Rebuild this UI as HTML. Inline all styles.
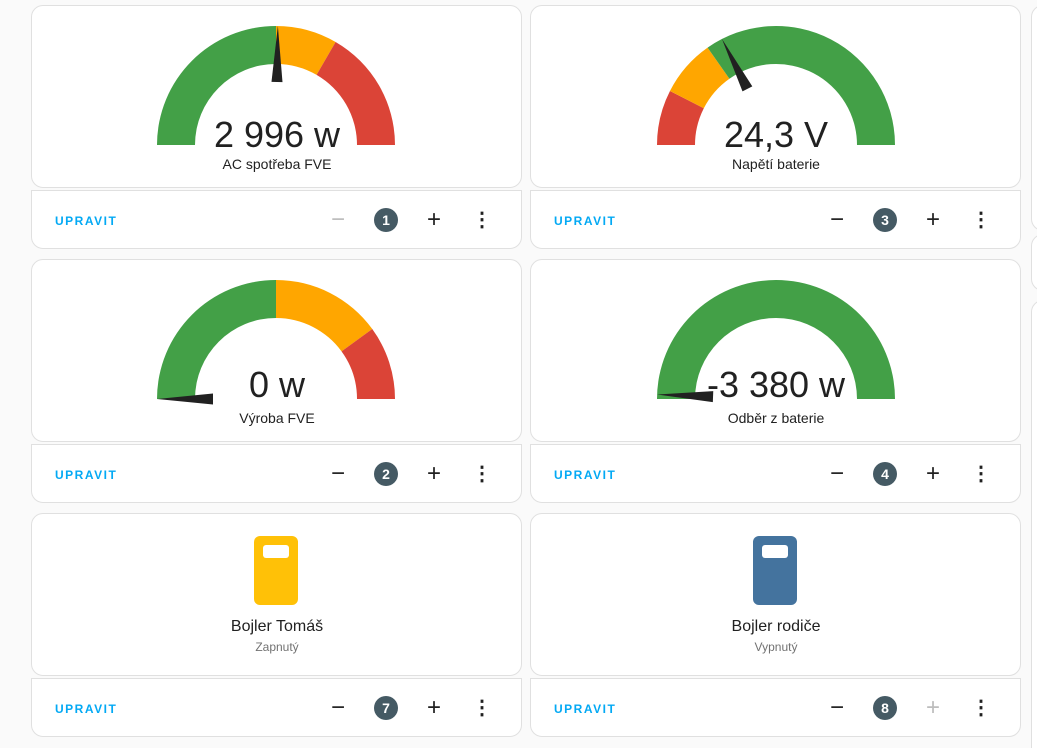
<!DOCTYPE html>
<html><head><meta charset="utf-8">
<style>
html,body{margin:0;width:1037px;height:748px;overflow:hidden}
body{background:#fafafa;position:relative;font-family:"Liberation Sans",sans-serif;color:#212121}
.card{position:absolute;background:#fff;border:1px solid #e0e0e0;border-radius:12px;box-sizing:border-box}
.foot{position:absolute;background:#fff;border:1px solid #e0e0e0;border-radius:0 0 12px 12px;box-sizing:border-box}
.up{position:absolute;left:23px;top:23px;font-size:12px;font-weight:bold;letter-spacing:1.5px;color:#03a9f4}
.ctl{position:absolute;top:18px;width:24px;height:24px;text-align:center;font-size:24px;line-height:22px;color:#212121}
.badge{position:absolute;top:17px;width:24px;height:24px;border-radius:12px;background:#455a64;color:#fff;font-size:14px;line-height:24px;text-align:center;font-weight:bold}
.lbl{position:absolute;width:490px;text-align:center;font-size:14px}
.big{position:absolute;width:490px;text-align:center;font-size:36px}
.icon{position:absolute;width:44px;height:69px;border-radius:6px}
.icon div{position:absolute;left:9px;top:9px;width:26px;height:13px;border-radius:3px;background:#fff}
</style></head><body>
<svg id="g" width="1037" height="748" style="position:absolute;left:0;top:0;z-index:1;pointer-events:none"></svg>

<div class="card" style="left:31px;top:5px;width:491px;height:183px">
 <div class="big" style="top:108px">2 996 w</div>
 <div class="lbl" style="top:150px">AC spotřeba FVE</div></div>
<div class="card" style="left:530px;top:5px;width:491px;height:183px">
 <div class="big" style="top:108px">24,3 V</div>
 <div class="lbl" style="top:150px">Napětí baterie</div></div>
<div class="card" style="left:31px;top:259px;width:491px;height:183px">
 <div class="big" style="top:104px">0 w</div>
 <div class="lbl" style="top:150px">Výroba FVE</div></div>
<div class="card" style="left:530px;top:259px;width:491px;height:183px">
 <div class="big" style="top:104px">-3 380 w</div>
 <div class="lbl" style="top:150px">Odběr z baterie</div></div>
<div class="card" style="left:31px;top:513px;width:491px;height:163px">
 <div class="icon" style="left:222px;top:22px;background:#ffc107"><div></div></div>
 <div class="lbl" style="top:104px;font-size:16px">Bojler Tomáš</div>
 <div class="lbl" style="top:126px;font-size:12px;color:#727272">Zapnutý</div></div>
<div class="card" style="left:530px;top:513px;width:491px;height:163px">
 <div class="icon" style="left:222px;top:22px;background:#44739e"><div></div></div>
 <div class="lbl" style="top:104px;font-size:16px">Bojler rodiče</div>
 <div class="lbl" style="top:126px;font-size:12px;color:#727272">Vypnutý</div></div>

<div class="card" style="left:1031px;top:5px;width:40px;height:226px"></div>
<div class="card" style="left:1031px;top:234px;width:40px;height:57px"></div>
<div class="card" style="left:1031px;top:300px;width:40px;height:460px"></div>

<div id="feet"></div>
<script>
const gaugeCenters=[[276,145],[776,145],[276,399],[776,399]];
const segStops=[[0.5,0.667,1],[0.15,0.305,1],[0.5,0.8,1],[1,1,1]];
const segOrder=[["#43a047","#ffa600","#db4437"],["#db4437","#ffa600","#43a047"],["#43a047","#ffa600","#db4437"],["#43a047","#43a047","#43a047"]];
const needleValues=[0.505,0.35,0,0.012];
const footBadges=["1","3","2","4","7","8"];
const minusDisabled=[true,false,false,false,false,false];
const plusDisabled=[false,false,false,false,false,true];
const svg=document.getElementById('g');const NS='http://www.w3.org/2000/svg';
const R=119,r=81;
function pt(cx,cy,rad,f){const a=Math.PI*(1-f);return [cx+rad*Math.cos(a),cy-rad*Math.sin(a)];}
gaugeCenters.forEach((c,i)=>{
 let prev=0;
 segStops[i].forEach((s,j)=>{
  if(s<=prev)return;
  const p1=pt(c[0],c[1],R,prev),p2=pt(c[0],c[1],R,s),p3=pt(c[0],c[1],r,s),p4=pt(c[0],c[1],r,prev);
  const el=document.createElementNS(NS,'path');
  el.setAttribute('d',`M${p1} A${R} ${R} 0 0 1 ${p2} L${p3} A${r} ${r} 0 0 0 ${p4}Z`);
  el.setAttribute('fill',segOrder[i][j]);
  
  
  svg.appendChild(el);prev=s;
 });
 const v=needleValues[i];const a=Math.PI*(1-v);
 const tip=pt(c[0],c[1],R,v),b=pt(c[0],c[1],63,v);
 const dx=-Math.sin(a)*5.5,dy=-Math.cos(a)*5.5;
 const n=document.createElementNS(NS,'polygon');
 n.setAttribute('points',`${tip} ${b[0]+dx},${b[1]+dy} ${b[0]-dx},${b[1]-dy}`);
 n.setAttribute('fill','#212121');
 
 
 svg.appendChild(n);
});
const feetPos=[[31,190],[530,190],[31,444],[530,444],[31,678],[530,678]];
const feet=document.getElementById('feet');
feetPos.forEach((p,i)=>{
 const f=document.createElement('div');f.className='foot';
 f.style.cssText=`left:${p[0]}px;top:${p[1]}px;width:491px;height:59px`;
 
 
 f.innerHTML=`<div class="up">UPRAVIT</div>
 <div class="ctl" style="left:294px;color:${minusDisabled[i]?'#bdbdbd':'#212121'}">&#8722;</div>
 <div class="badge" style="left:342px">${footBadges[i]}</div>
 <div class="ctl" style="left:390px;color:${plusDisabled[i]?'#bdbdbd':'#212121'}">+</div>
 <div class="ctl" style="left:438px;font-size:20px;font-weight:bold">&#8942;</div>`;
 feet.appendChild(f);
});
</script>
</body></html>
